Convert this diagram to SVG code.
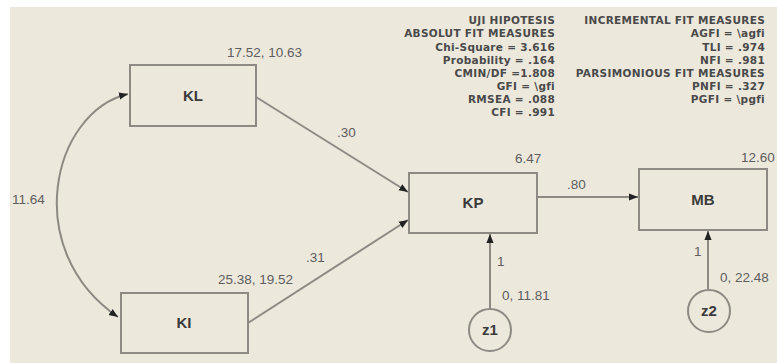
<svg xmlns="http://www.w3.org/2000/svg" width="777" height="363" viewBox="0 0 777 363">
<defs>
<style>
.box{fill:#ECE8DC;stroke:#8C8A82;stroke-width:2}
.circ{fill:#ECE8DC;stroke:#8C8A82;stroke-width:2}
.edge{fill:none;stroke:#8C8A82;stroke-width:2}
.lbl{font-family:"Liberation Sans",Arial,sans-serif;font-size:15px;font-weight:bold;fill:#3a3a3a;text-anchor:middle}
.val{font-family:"Liberation Sans",Arial,sans-serif;font-size:13.5px;fill:#5e5e5e}
.fit{font-family:"DejaVu Sans",Verdana,sans-serif;font-size:10.5px;font-weight:bold;fill:#4a4a4a;text-anchor:end;letter-spacing:0.3px}
</style>
<marker id="ah" viewBox="0 0 10 10" refX="10" refY="5" markerWidth="9" markerHeight="9" markerUnits="userSpaceOnUse" orient="auto-start-reverse">
<path d="M0,1 L10,5 L0,9 z" fill="#222"/>
</marker>
</defs>
<rect x="0" y="0" width="777" height="363" fill="#ffffff"/>
<rect x="10" y="7" width="767" height="356" fill="#ECE8DC"/>

<g id="connectors">
<path class="edge" d="M128,94 C52,112 20,250 118,317" marker-start="url(#ah)" marker-end="url(#ah)"/>
<line class="edge" x1="256" y1="97" x2="408" y2="192" marker-end="url(#ah)"/>
<line class="edge" x1="248" y1="323" x2="408" y2="220" marker-end="url(#ah)"/>
<line class="edge" x1="537" y1="197" x2="638" y2="197" marker-end="url(#ah)"/>
<line class="edge" x1="490" y1="308" x2="490" y2="234" marker-end="url(#ah)"/>
<line class="edge" x1="708" y1="289" x2="708" y2="231" marker-end="url(#ah)"/>
<text class="val" x="337" y="137">.30</text>
<text class="val" x="306" y="262">.31</text>
<text class="val" x="567" y="189">.80</text>
<text class="val" x="12" y="204">11.64</text>
<text class="val" x="497" y="266">1</text>
<text class="val" x="502" y="300">0, 11.81</text>
<text class="val" x="694" y="256">1</text>
<text class="val" x="720" y="282">0, 22.48</text>
</g>

<g id="KL">
<rect class="box" x="130" y="65" width="126" height="61"/>
<text class="lbl" x="193" y="101">KL</text>
<text class="val" x="227" y="57">17.52, 10.63</text>
</g>
<g id="KI">
<rect class="box" x="121" y="293" width="127" height="60"/>
<text class="lbl" x="184" y="328">KI</text>
<text class="val" x="218" y="284">25.38, 19.52</text>
</g>
<g id="KP">
<rect class="box" x="409" y="173" width="128" height="60"/>
<text class="lbl" x="473" y="208">KP</text>
<text class="val" x="515" y="163">6.47</text>
</g>
<g id="MB">
<rect class="box" x="639" y="169" width="128" height="61"/>
<text class="lbl" x="703" y="205">MB</text>
<text class="val" x="741" y="162">12.60</text>
</g>
<g id="z1">
<circle class="circ" cx="490" cy="330" r="21"/>
<text class="lbl" x="490" y="335">z1</text>
</g>
<g id="z2">
<circle class="circ" cx="709" cy="311" r="21"/>
<text class="lbl" x="709" y="316">z2</text>
</g>

<g id="fit-measures">
<text class="fit" x="555" y="24">UJI HIPOTESIS</text>
<text class="fit" x="555" y="37">ABSOLUT FIT MEASURES</text>
<text class="fit" x="555" y="51">Chi-Square = 3.616</text>
<text class="fit" x="555" y="64">Probability = .164</text>
<text class="fit" x="555" y="77">CMIN/DF =1.808</text>
<text class="fit" x="555" y="90">GFI = \gfi</text>
<text class="fit" x="555" y="103">RMSEA = .088</text>
<text class="fit" x="555" y="116">CFI = .991</text>
<text class="fit" x="765" y="24">INCREMENTAL FIT MEASURES</text>
<text class="fit" x="765" y="37">AGFI = \agfi</text>
<text class="fit" x="765" y="51">TLI = .974</text>
<text class="fit" x="765" y="64">NFI = .981</text>
<text class="fit" x="765" y="77">PARSIMONIOUS FIT MEASURES</text>
<text class="fit" x="765" y="90">PNFI = .327</text>
<text class="fit" x="765" y="103">PGFI = \pgfi</text>
</g>
</svg>
